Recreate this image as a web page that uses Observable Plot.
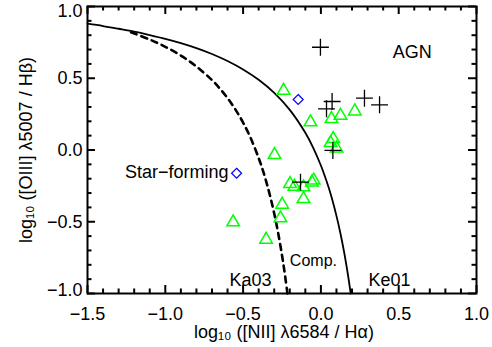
<!DOCTYPE html>
<html><head><meta charset="utf-8">
<script src="https://cdn.jsdelivr.net/npm/d3@7"></script>
<script src="https://cdn.jsdelivr.net/npm/@observablehq/plot@0.6"></script>
<style>body{margin:0;background:#fff} svg{display:block}</style>
</head><body><div id="chart"></div>
<script>
// ---- data ----
const xTicks = [-1.5, -1.0, -0.5, 0.0, 0.5, 1.0];
const yTicks = [-1.0, -0.5, 0.0, 0.5, 1.0];
const xMinor = [-1.4,-1.3,-1.2,-1.1,-0.9,-0.8,-0.7,-0.6,-0.4,-0.3,-0.2,-0.1,0.1,0.2,0.3,0.4,0.6,0.7,0.8,0.9];
const yMinor = [-0.9,-0.8,-0.7,-0.6,-0.4,-0.3,-0.2,-0.1,0.1,0.2,0.3,0.4,0.6,0.7,0.8,0.9];

// Kewley et al. 2001 maximum starburst line (Ke01)
const ke01X = [-1.5,-1.4,-1.3,-1.2,-1.1,-1.0,-0.9,-0.8,-0.7,-0.6,-0.5,-0.4,-0.3,-0.2,-0.1,-0.05,0.0,0.025,0.05,0.075,0.1,0.125,0.15,0.175,0.1915];
const ke01Y = [0.880,0.864,0.845,0.825,0.801,0.775,0.745,0.710,0.669,0.620,0.561,0.489,0.398,0.280,0.120,0.017,-0.108,-0.181,-0.262,-0.354,-0.459,-0.578,-0.716,-0.878,-1.0];

// Kauffmann et al. 2003 line (Ka03), dashed
const ka03X = [-1.22,-1.1,-1.0,-0.9,-0.8,-0.7,-0.65,-0.6,-0.55,-0.5,-0.45,-0.4,-0.375,-0.35,-0.325,-0.3,-0.275,-0.25,-0.235,-0.215];
const ka03Y = [0.820,0.770,0.719,0.658,0.582,0.487,0.429,0.362,0.283,0.191,0.080,-0.056,-0.135,-0.225,-0.327,-0.443,-0.577,-0.733,-0.840,-1.0];

// composite objects (green triangles)
const compX = [-0.240,-0.067,0.068,0.126,0.218,0.079,0.062,0.100,-0.298,-0.198,-0.170,-0.112,-0.058,-0.046,-0.112,-0.249,-0.260,-0.352,-0.564];
const compY = [0.414,0.194,0.217,0.240,0.270,0.078,0.049,0.012,-0.034,-0.236,-0.255,-0.259,-0.225,-0.212,-0.341,-0.380,-0.475,-0.624,-0.503];

// star-forming objects (blue diamonds)
const sfX = [-0.146, -0.542];
const sfY = [0.352, -0.162];

// AGN (black plus signs)
const agnX = [-0.003, 0.072, 0.036, 0.280, 0.377, 0.077, -0.131];
const agnY = [0.716, 0.338, 0.287, 0.361, 0.315, -0.003, -0.224];

// region labels
const labelText = ["AGN", "Ka03", "Ke01"];
const labelX = [0.587, -0.452, 0.441];
const labelY = [0.680, -0.909, -0.909];
const compLabel = "Comp.";
const compLabelX = -0.048, compLabelY = -0.770;
const sfLabel = "Star−forming";
const sfLabelX = -0.594, sfLabelY = -0.157;

const xTitle = "log₁₀ ([NII] λ6584 / Hα)";
const yTitle = "log₁₀ ([OIII] λ5007 / Hβ)";

// ---- build tables ----
const zip = (xs, ys) => xs.map((x, i) => ({x, y: ys[i]}));
const ke01 = zip(ke01X, ke01Y);
const ka03 = zip(ka03X, ka03Y);
const comp = zip(compX, compY);
const sf = zip(sfX, sfY);
const agn = zip(agnX, agnY);
const labels = labelText.map((t, i) => ({t, x: labelX[i], y: labelY[i]}));

const W = 492, H = 347, mL = 87, mR = 16, mT = 6, mB = 54;
const fw = W - mL - mR, fh = H - mT - mB;
const xLo = -1.5, xHi = 1.0, yLo = -1.0, yHi = 1.0;
const fmt = d => (d < 0 ? "−" : "") + Math.abs(d).toFixed(1);
const majorLen = 8, minorLen = 4.5;
// tick lengths expressed in data units (pixels -> data)
const dxPer = (xHi - xLo) / fw, dyPer = (yHi - yLo) / fh;

const tickStyle = {stroke: "black", strokeWidth: 2};
const xTickMarks = (vals, len) => [
  Plot.ruleX(vals, {x: d => d, y1: () => yLo, y2: () => yLo + len * dyPer, ...tickStyle}),
  Plot.ruleX(vals, {x: d => d, y1: () => yHi, y2: () => yHi - len * dyPer, ...tickStyle})
];
const yTickMarks = (vals, len) => [
  Plot.ruleY(vals, {y: d => d, x1: () => xLo, x2: () => xLo + len * dxPer, ...tickStyle}),
  Plot.ruleY(vals, {y: d => d, x1: () => xHi, x2: () => xHi - len * dxPer, ...tickStyle})
];

const chart = Plot.plot({
  width: W, height: H,
  marginLeft: mL, marginRight: mR, marginTop: mT, marginBottom: mB,
  style: {fontFamily: "'Liberation Sans', Arial, Helvetica, sans-serif", fontSize: "18px", background: "#fff", color: "#000", overflow: "visible"},
  x: {domain: [xLo, xHi]},
  y: {domain: [yLo, yHi]},
  marks: [
    Plot.line(ke01, {x: "x", y: "y", curve: "catmull-rom", stroke: "black", strokeWidth: 1.8}),
    Plot.line(ka03, {x: "x", y: "y", curve: "catmull-rom", stroke: "black", strokeWidth: 2.6, strokeDasharray: "6,5"}),
    Plot.dot(comp, {x: "x", y: "y", symbol: "triangle2", r: 6, stroke: "#00ff00", strokeWidth: 1.5}),
    Plot.dot(sf, {x: "x", y: "y", symbol: "diamond2", r: 4.5, stroke: "#0000ff", strokeWidth: 1.2}),
    Plot.dot(agn, {x: "x", y: "y", symbol: "plus", r: 5.5, stroke: "black", strokeWidth: 1.3}),
    Plot.text(labels, {x: "x", y: "y", text: "t", fontSize: 18, lineAnchor: "middle", fill: "black"}),
    Plot.text([compLabel], {x: () => compLabelX, y: () => compLabelY, text: d => d, fontSize: 16, lineAnchor: "middle"}),
    Plot.text([sfLabel], {x: () => sfLabelX, y: () => sfLabelY, text: d => d, fontSize: 18, lineAnchor: "middle", textAnchor: "end"}),
    Plot.axisX(xTicks, {tickSize: 0, tickPadding: 14, tickFormat: fmt, fontSize: 18, label: null}),
    Plot.axisY(yTicks.slice(1, -1), {tickSize: 0, tickPadding: 5, tickFormat: fmt, fontSize: 18, label: null}),
    Plot.axisY(yTicks.slice(-1), {tickSize: 0, tickPadding: 5, tickFormat: fmt, fontSize: 18, label: null, dy: 5}),
    Plot.axisY(yTicks.slice(0, 1), {tickSize: 0, tickPadding: 5, tickFormat: fmt, fontSize: 18, label: null, dy: -3}),
    Plot.text([xTitle], {text: d => d, frameAnchor: "bottom", dy: 39, dx: 2, lineAnchor: "middle", textAnchor: "middle", fontSize: 18}),
    Plot.text([yTitle], {text: d => d, frameAnchor: "left", dx: -61, rotate: -90, lineAnchor: "middle", textAnchor: "middle", fontSize: 18}),
    Plot.frame({stroke: "black", strokeWidth: 2}),
    ...xTickMarks(xTicks, majorLen),
    ...xTickMarks(xMinor, minorLen),
    ...yTickMarks(yTicks, majorLen),
    ...yTickMarks(yMinor, minorLen)
  ]
});
document.getElementById("chart").append(chart);
</script>
</body></html>
